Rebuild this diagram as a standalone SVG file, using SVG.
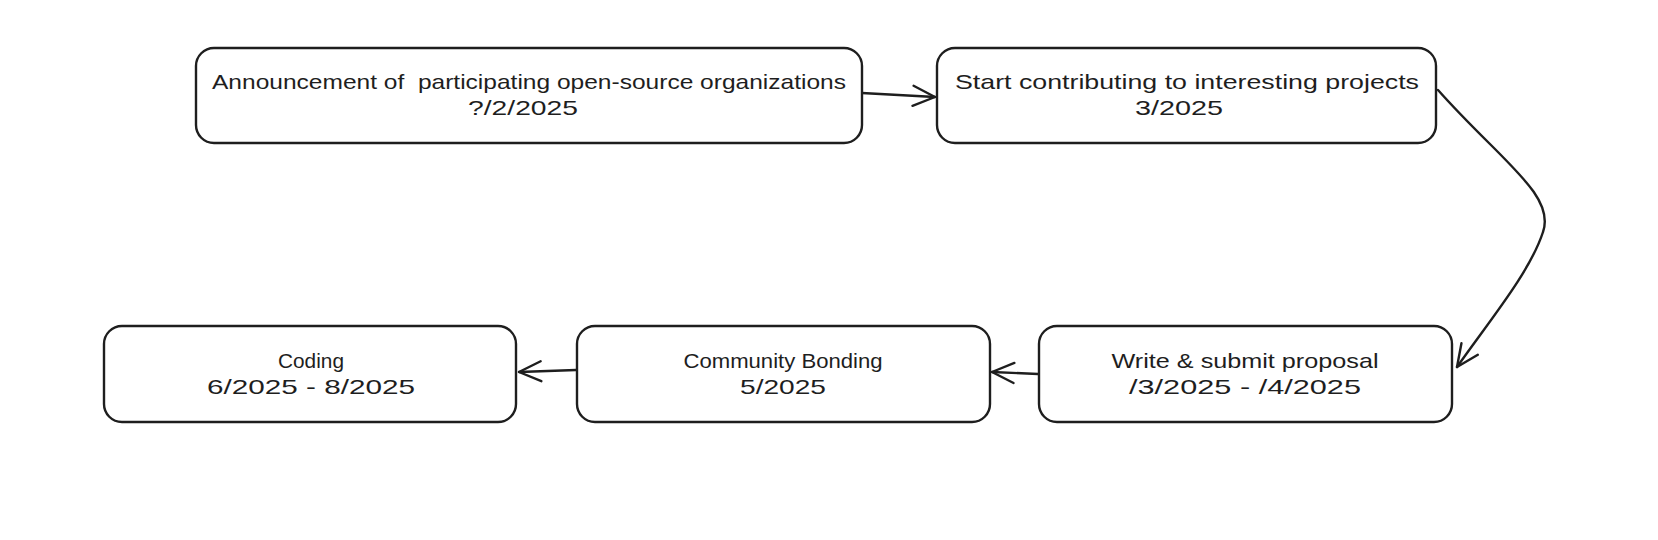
<svg xmlns="http://www.w3.org/2000/svg" width="1658" height="540" viewBox="0 0 1658 540">
<style>
.box{fill:#ffffff;stroke:#1e1e1e;stroke-width:2.4}
.t{font-family:"Liberation Sans","DejaVu Sans",sans-serif;font-size:21px;fill:#1e1e1e;text-anchor:middle;white-space:pre}
.c{fill:none;stroke:#1e1e1e;stroke-width:2.4;stroke-linecap:round}
</style>
<defs>
<marker id="ah" viewBox="-24 -14 28 28" markerWidth="28" markerHeight="28" refX="0" refY="0" orient="auto" markerUnits="userSpaceOnUse">
<path d="M-22,-10 L0,0 L-22,10" fill="none" stroke="#1e1e1e" stroke-width="2.4" stroke-linecap="round" stroke-linejoin="round"/>
</marker>
</defs>
<rect width="1658" height="540" fill="#ffffff"/>
<g id="connectors">
<path class="c" d="M862,93 L935,97" marker-end="url(#ah)"/>
<path class="c" d="M1438,90 C1500,160 1556,195 1543,232 C1530,272 1490,320 1457,367" marker-end="url(#ah)"/>
<path class="c" d="M1038,374 L992,372" marker-end="url(#ah)"/>
<path class="c" d="M576,370 L519,372" marker-end="url(#ah)"/>
</g>
<g id="node-announcement">
<rect class="box" x="196" y="48" width="666" height="95" rx="18"/>
<text class="t" x="529" y="89" textLength="634" lengthAdjust="spacingAndGlyphs">Announcement of  participating open-source organizations</text>
<text class="t" x="523" y="115" textLength="110" lengthAdjust="spacingAndGlyphs">?/2/2025</text>
</g>
<g id="node-contributing">
<rect class="box" x="937" y="48" width="499" height="95" rx="18"/>
<text class="t" x="1187" y="89" textLength="464" lengthAdjust="spacingAndGlyphs">Start contributing to interesting projects</text>
<text class="t" x="1179" y="115" textLength="88" lengthAdjust="spacingAndGlyphs">3/2025</text>
</g>
<g id="node-proposal">
<rect class="box" x="1039" y="326" width="413" height="96" rx="18"/>
<text class="t" x="1245" y="368" textLength="267" lengthAdjust="spacingAndGlyphs">Write &amp; submit proposal</text>
<text class="t" x="1245" y="394" textLength="232" lengthAdjust="spacingAndGlyphs">/3/2025 - /4/2025</text>
</g>
<g id="node-bonding">
<rect class="box" x="577" y="326" width="413" height="96" rx="18"/>
<text class="t" x="783" y="368" textLength="199" lengthAdjust="spacingAndGlyphs">Community Bonding</text>
<text class="t" x="783" y="394" textLength="86" lengthAdjust="spacingAndGlyphs">5/2025</text>
</g>
<g id="node-coding">
<rect class="box" x="104" y="326" width="412" height="96" rx="18"/>
<text class="t" x="311" y="368" textLength="66" lengthAdjust="spacingAndGlyphs">Coding</text>
<text class="t" x="311" y="394" textLength="208" lengthAdjust="spacingAndGlyphs">6/2025 - 8/2025</text>
</g>
</svg>
